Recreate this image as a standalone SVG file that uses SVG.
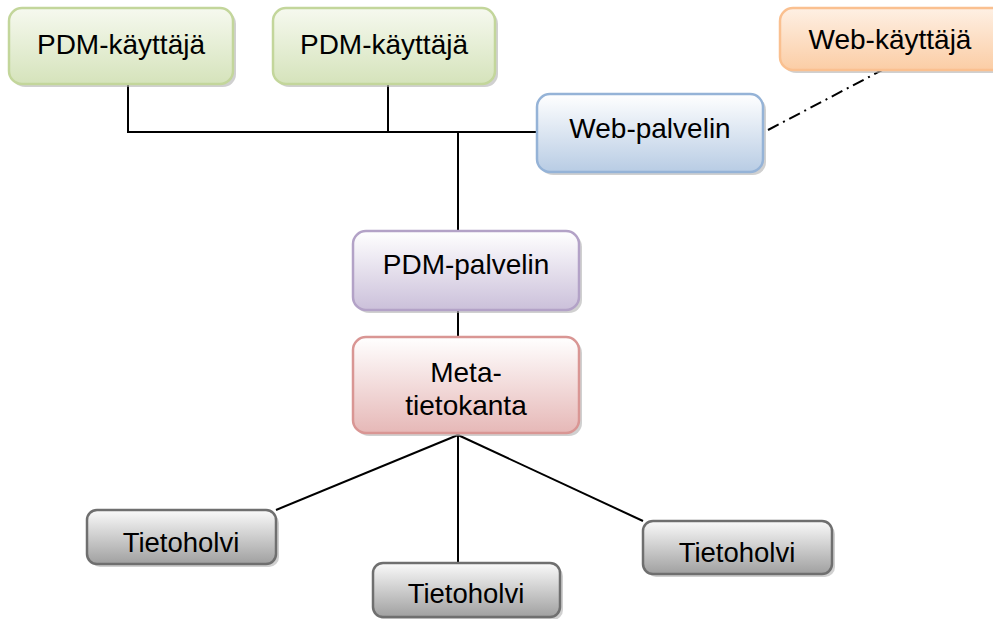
<svg xmlns="http://www.w3.org/2000/svg" width="993" height="619" viewBox="0 0 993 619">
<defs>
<linearGradient id="gGreen" x1="0" y1="0" x2="0" y2="1"><stop offset="0" stop-color="#f6f9ef"/><stop offset="1" stop-color="#d5e3bb"/></linearGradient>
<linearGradient id="gBlue" x1="0" y1="0" x2="0" y2="1"><stop offset="0" stop-color="#ffffff"/><stop offset="1" stop-color="#b8cce4"/></linearGradient>
<linearGradient id="gOrange" x1="0" y1="0" x2="0" y2="1"><stop offset="0" stop-color="#fef0e4"/><stop offset="1" stop-color="#fbcda5"/></linearGradient>
<linearGradient id="gPurple" x1="0" y1="0" x2="0" y2="1"><stop offset="0" stop-color="#ffffff"/><stop offset="1" stop-color="#cbc0da"/></linearGradient>
<linearGradient id="gRed" x1="0" y1="0" x2="0" y2="1"><stop offset="0" stop-color="#ffffff"/><stop offset="1" stop-color="#e6b8b7"/></linearGradient>
<linearGradient id="gGray" x1="0" y1="0" x2="0" y2="1"><stop offset="0" stop-color="#fafafa"/><stop offset="1" stop-color="#a0a0a0"/></linearGradient>
</defs>
<style>
.sh{fill:#b0b0b0;opacity:0.6}
.box{stroke-width:2.5}
.green{fill:url(#gGreen);stroke:#c3d69b}
.blue{fill:url(#gBlue);stroke:#95b3d7}
.orange{fill:url(#gOrange);stroke:#fac090}
.purple{fill:url(#gPurple);stroke:#b3a2c7}
.red{fill:url(#gRed);stroke:#d99694}
.gray{fill:url(#gGray);stroke:#6f6f6f}
text{font-family:"Liberation Sans",Arial,sans-serif;font-size:28px;fill:#000;text-anchor:middle}
.t{font-size:27.5px}
.ln{stroke:#000;stroke-width:2;fill:none}
.dd{stroke-dasharray:12,5,2,5}
</style>
<g id="connectors">
<polyline class="ln" points="128,84 128,132 537,132"/>
<line class="ln" x1="388" y1="84" x2="388" y2="132"/>
<line class="ln" x1="458" y1="132" x2="458" y2="231"/>
<line class="ln" x1="458" y1="310" x2="458" y2="337"/>
<line class="ln" x1="458" y1="435" x2="276" y2="510"/>
<line class="ln" x1="458" y1="435" x2="458" y2="563"/>
<line class="ln" x1="458" y1="435" x2="643" y2="521"/>
<line class="ln dd" x1="768" y1="130" x2="888" y2="67"/>
</g>
<g id="pdm-user-1">
<rect class="sh" x="12" y="11" width="224" height="76" rx="13"/>
<rect class="box green" x="9" y="8" width="224" height="76" rx="13"/>
<text x="121" y="54">PDM-käyttäjä</text>
</g>
<g id="pdm-user-2">
<rect class="sh" x="276" y="11" width="222" height="76" rx="13"/>
<rect class="box green" x="273" y="8" width="222" height="76" rx="13"/>
<text x="384" y="54">PDM-käyttäjä</text>
</g>
<g id="web-user">
<rect class="sh" x="783" y="11" width="230" height="62" rx="13"/>
<rect class="box orange" x="780" y="8" width="230" height="62" rx="13"/>
<text x="890" y="49">Web-käyttäjä</text>
</g>
<g id="web-server">
<rect class="sh" x="540" y="97" width="226" height="78" rx="13"/>
<rect class="box blue" x="537" y="94" width="226" height="78" rx="13"/>
<text x="650" y="138">Web-palvelin</text>
</g>
<g id="pdm-server">
<rect class="sh" x="356" y="234" width="226" height="79" rx="13"/>
<rect class="box purple" x="353" y="231" width="226" height="79" rx="13"/>
<text x="466" y="274">PDM-palvelin</text>
</g>
<g id="metadb">
<rect class="sh" x="356" y="340" width="226" height="96" rx="13"/>
<rect class="box red" x="353" y="337" width="226" height="96" rx="13"/>
<text x="466" y="382">Meta-</text>
<text x="466" y="415">tietokanta</text>
</g>
<g id="vault-left">
<rect class="sh" x="90" y="513" width="189" height="54" rx="10"/>
<rect class="box gray" x="87" y="510" width="189" height="54" rx="10"/>
<text class="t" x="181" y="552">Tietoholvi</text>
</g>
<g id="vault-bottom">
<rect class="sh" x="376" y="566" width="187" height="54" rx="10"/>
<rect class="box gray" x="373" y="563" width="187" height="54" rx="10"/>
<text class="t" x="466" y="603">Tietoholvi</text>
</g>
<g id="vault-right">
<rect class="sh" x="646" y="524" width="189" height="53" rx="10"/>
<rect class="box gray" x="643" y="521" width="189" height="53" rx="10"/>
<text class="t" x="737" y="562">Tietoholvi</text>
</g>
</svg>
